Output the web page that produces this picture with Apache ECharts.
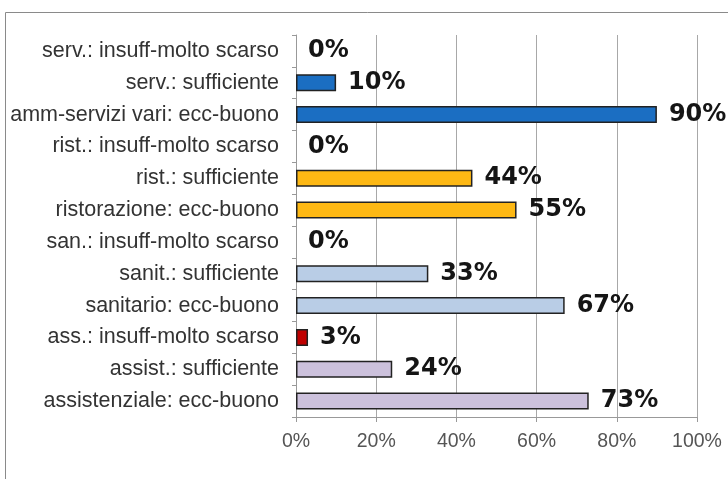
<!DOCTYPE html>
<html>
<head>
<meta charset="utf-8">
<script src="https://cdn.jsdelivr.net/npm/echarts@6/dist/echarts.min.js"></script>
<style>
html,body{margin:0;padding:0;background:#fff;}
#chart{width:728px;height:479px;}
</style>
</head>
<body>
<div id="chart"></div>
<script>
const categories = [
  "serv.: insuff-molto scarso",
  "serv.: sufficiente",
  "amm-servizi vari: ecc-buono",
  "rist.: insuff-molto scarso",
  "rist.: sufficiente",
  "ristorazione: ecc-buono",
  "san.: insuff-molto scarso",
  "sanit.: sufficiente",
  "sanitario: ecc-buono",
  "ass.: insuff-molto scarso",
  "assist.: sufficiente",
  "assistenziale: ecc-buono"
];
const values = [0, 10, 90, 0, 44, 55, 0, 33, 67, 3, 24, 73];
const barColors = [
  "#1b6ec2", "#1b6ec2", "#1b6ec2",
  "#fdb814", "#fdb814", "#fdb814",
  "#b9cde6", "#b9cde6", "#b9cde6",
  "#c00000", "#ccc1dc", "#ccc1dc"
];
const xTicks = [0, 20, 40, 60, 80, 100];

const chart = echarts.init(document.getElementById('chart'));
chart.setOption({
  animation: false,
  backgroundColor: '#ffffff',
  graphic: [{
    type: 'rect',
    shape: { x: 5.5, y: 12.5, width: 800, height: 600 },
    style: { fill: 'none', stroke: '#8a8a8a', lineWidth: 1 },
    silent: true
  }],
  grid: { left: 296, right: 31, top: 35, bottom: 62, containLabel: false },
  xAxis: {
    type: 'value',
    min: xTicks[0],
    max: xTicks[xTicks.length - 1],
    interval: xTicks[1] - xTicks[0],
    axisLine: { show: true, lineStyle: { color: '#999', width: 1 } },
    axisTick: { show: true, length: 5, lineStyle: { color: '#999' } },
    splitLine: { show: true, lineStyle: { color: '#a8a8a8', width: 1 } },
    axisLabel: {
      formatter: '{value}%',
      fontFamily: 'Liberation Sans',
      fontSize: 19.5,
      color: '#555',
      margin: 15
    }
  },
  yAxis: {
    type: 'category',
    data: categories,
    inverse: true,
    axisLine: { show: true, lineStyle: { color: '#999', width: 1 } },
    axisTick: { show: true, length: 4, lineStyle: { color: '#999' } },
    splitLine: { show: false },
    axisLabel: {
      fontFamily: 'Liberation Sans',
      fontSize: 21.5,
      color: '#333',
      margin: 17
    }
  },
  series: [{
    type: 'bar',
    barWidth: 17,
    data: values.map((v, i) => ({
      value: v,
      itemStyle: { color: barColors[i], borderColor: '#222', borderWidth: v === 0 ? 0 : 1.5 }
    })),
    label: {
      show: true,
      position: 'right',
      distance: 12,
      formatter: '{c}%',
      fontFamily: 'DejaVu Sans',
      fontWeight: 'bold',
      fontSize: 24,
      color: '#151515'
    }
  }]
});
</script>
</body>
</html>
